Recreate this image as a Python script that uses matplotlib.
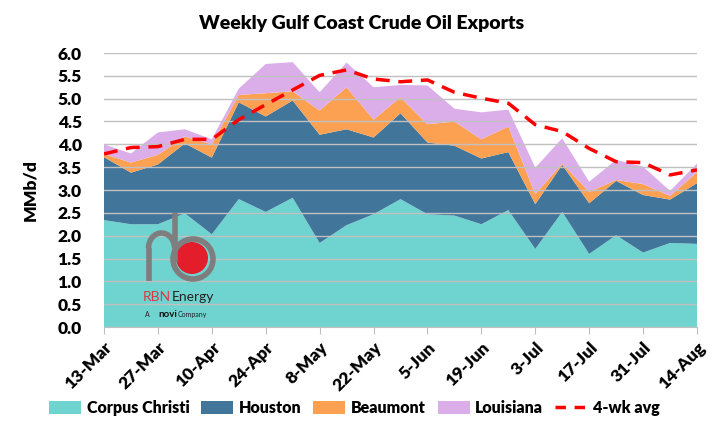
import matplotlib
matplotlib.use('Agg')
import matplotlib.pyplot as plt
from matplotlib.patches import Patch, Circle, Arc
from matplotlib.lines import Line2D
import numpy as np

# weekly data, MMb/d
weeks = ['13-Mar', '20-Mar', '27-Mar', '3-Apr', '10-Apr', '17-Apr', '24-Apr', '1-May',
         '8-May', '15-May', '22-May', '29-May', '5-Jun', '12-Jun', '19-Jun', '26-Jun',
         '3-Jul', '10-Jul', '17-Jul', '24-Jul', '31-Jul', '7-Aug', '14-Aug']
corpus = [2.34, 2.25, 2.25, 2.49, 2.03, 2.80, 2.52, 2.83, 1.84, 2.23, 2.47, 2.80,
          2.47, 2.44, 2.25, 2.56, 1.71, 2.52, 1.60, 2.01, 1.63, 1.84, 1.82]
houston = [1.38, 1.13, 1.31, 1.53, 1.68, 2.12, 2.09, 2.13, 2.37, 2.10, 1.68, 1.88,
           1.57, 1.53, 1.44, 1.27, 0.98, 1.03, 1.11, 1.19, 1.26, 0.95, 1.33]
beaumont = [0.07, 0.22, 0.21, 0.15, 0.29, 0.16, 0.51, 0.20, 0.53, 0.92, 0.39, 0.35,
            0.40, 0.53, 0.42, 0.56, 0.22, 0.03, 0.25, 0.02, 0.24, 0.08, 0.24]
louisiana = [0.21, 0.20, 0.49, 0.16, 0.11, 0.14, 0.64, 0.64, 0.40, 0.54, 0.71, 0.27,
             0.85, 0.28, 0.59, 0.37, 0.58, 0.55, 0.22, 0.44, 0.38, 0.11, 0.19]
avg4 = [3.79, 3.93, 3.95, 4.11, 4.11, 4.54, 4.87, 5.19, 5.51, 5.63, 5.43, 5.37,
        5.41, 5.14, 5.01, 4.90, 4.43, 4.28, 3.91, 3.62, 3.60, 3.33, 3.44]

series_names = ['Corpus Christi', 'Houston', 'Beaumont', 'Louisiana']
colors = ['#6FD3CF', '#41759A', '#FCA052', '#DBAEE9']

plt.rcParams['font.family'] = ['Lato', 'DejaVu Sans']
W = 'heavy'

fig = plt.figure(figsize=(7.23, 4.36), dpi=100)
ax = fig.add_axes([104 / 723, 109 / 436, 593 / 723, 274 / 436])

x = np.arange(len(weeks))
ax.stackplot(x, corpus, houston, beaumont, louisiana, colors=colors, linewidth=0)
ax.plot(x, avg4, color='#FF0000', lw=2.5, dashes=(4, 2.5))

ax.set_xlim(0, len(weeks) - 1)
ax.set_ylim(0, 6.0)
yt = np.arange(0, 6.01, 0.5)
ax.set_yticks(yt)
ax.set_yticklabels([f'{v:.1f}' for v in yt], fontsize=12.5, fontweight=W)
ax.set_xticks(x[::2])
ax.set_xticklabels(weeks[::2], rotation=45, fontsize=12.5, fontweight=W,
                   ha='right', rotation_mode='anchor')
ax.tick_params(axis='y', length=0, pad=16)
ax.tick_params(axis='x', length=5, color='#BFBFBF', pad=4)
ax.grid(axis='y', color='#D0D0D0', lw=1)
for side in ['top', 'right', 'left']:
    ax.spines[side].set_visible(False)
ax.spines['bottom'].set_color('#BFBFBF')
ax.set_ylabel('MMb/d', fontsize=12.5, fontweight=W, labelpad=14)

# faint gridlines over the fill, as in the original
for yv in yt[1:]:
    ax.axhline(yv, color='#000000', alpha=0.07, lw=1, zorder=3)

fig.text(0.5, 0.947, 'Weekly Gulf Coast Crude Oil Exports', ha='center', va='center',
         fontsize=14, fontweight=W)

handles = [Patch(facecolor=c, label=n) for c, n in zip(colors, series_names)]
handles.append(Line2D([0], [0], color='#FF0000', lw=2.5, dashes=(3, 2.5), label='4-wk avg'))
fig.legend(handles=handles, loc='center', bbox_to_anchor=(0.49, 0.064), ncol=5, frameon=False,
           handlelength=2.0, handleheight=0.85, columnspacing=0.75, handletextpad=0.35,
           prop={'weight': W, 'size': 11.5})

# logo overlay in pixel coordinates
lg = fig.add_axes([0, 0, 1, 1])
lg.set_xlim(0, 723)
lg.set_ylim(436, 0)
lg.axis('off')
lg.set_zorder(5)
gray = '#7E7E7E'
lg.add_patch(Arc((161.5, 248), 26, 30, theta1=180, theta2=360, color=gray, lw=4))
lg.plot([148.5, 148.5], [248, 281], color=gray, lw=4, solid_capstyle='butt')
lg.plot([174.5, 174.5], [213, 262], color=gray, lw=4, solid_capstyle='butt')
lg.add_patch(Circle((192, 258), 16, facecolor='#E31E2A', edgecolor='none'))
lg.add_patch(Circle((193, 259), 20, facecolor='none', edgecolor=gray, lw=4))
lg.text(143, 297, 'RBN', color='#D83A44', fontsize=10, va='center')
lg.text(172, 297, 'Energy', color='#222222', fontsize=10, va='center')
lg.text(145, 314, 'A', color='#222222', fontsize=5, va='center')
lg.text(158, 314, 'novi', color='#111111', fontsize=7, fontweight='bold', va='center')
lg.text(178, 314, 'Company', color='#222222', fontsize=5, va='center')

fig.savefig('out.png', dpi=100)
